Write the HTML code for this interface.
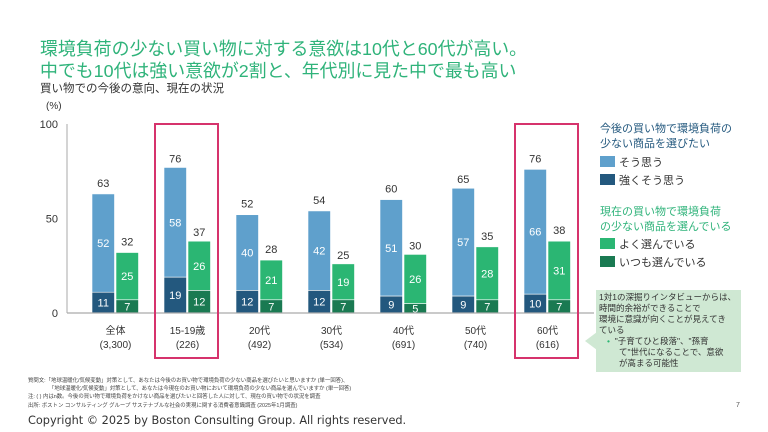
<!DOCTYPE html>
<html><head><meta charset="utf-8"><style>
body{margin:0;width:768px;height:432px;background:#fff;overflow:hidden;font-family:"Liberation Sans","Noto Sans CJK JP",sans-serif;position:relative}
.t{position:absolute;white-space:nowrap}
</style></head><body>
<div class="t" style="left:40px;top:38px;font-size:17.9px;line-height:22px;color:#2fb37a">環境負荷の少ない買い物に対する意欲は10代と60代が高い。<br>中でも10代は強い意欲が2割と、年代別に見た中で最も高い</div>
<div class="t" style="left:40px;top:80px;font-size:11.5px;color:#333">買い物での今後の意向、現在の状況</div>
<svg id="chart" width="768" height="432" style="position:absolute;left:0;top:0" font-family="Liberation Sans, Noto Sans CJK JP, sans-serif"></svg>
<div class="t" style="left:600px;top:122px;font-size:11px;line-height:15px;color:#23587e">今後の買い物で環境負荷の<br>少ない商品を選びたい</div>
<div class="t" style="left:600px;top:154px;font-size:11px;color:#333"><span style="display:inline-block;width:15px;height:11px;background:#5fa0cc;vertical-align:-1px;margin-right:4px"></span>そう思う</div>
<div class="t" style="left:600px;top:172px;font-size:11px;color:#333"><span style="display:inline-block;width:15px;height:11px;background:#23587e;vertical-align:-1px;margin-right:4px"></span>強くそう思う</div>
<div class="t" style="left:600px;top:205px;font-size:11px;line-height:15px;color:#2fb37a">現在の買い物で環境負荷<br>の少ない商品を選んでいる</div>
<div class="t" style="left:600px;top:236px;font-size:11px;color:#333"><span style="display:inline-block;width:15px;height:11px;background:#2bb673;vertical-align:-1px;margin-right:4px"></span>よく選んでいる</div>
<div class="t" style="left:600px;top:254px;font-size:11px;color:#333"><span style="display:inline-block;width:15px;height:11px;background:#1a7a52;vertical-align:-1px;margin-right:4px"></span>いつも選んでいる</div>
<div style="position:absolute;left:596px;top:290px;width:145px;height:82px;background:#cfe8d3;font-size:8.5px;line-height:11px;color:#333;padding:2px 3px;box-sizing:border-box">1対1の深掘りインタビューからは、<br>時間的余裕ができることで<br>環境に意識が向くことが見えてき<br>ている<br><span style="color:#2bb673;margin-left:8px">•</span>&nbsp; "子育てひと段落"、"孫育<br><span style="margin-left:20px">て"世代になることで、意欲</span><br><span style="margin-left:20px">が高まる可能性</span></div>
<div style="position:absolute;left:585px;top:332px;width:0;height:0;border-top:9px solid transparent;border-bottom:9px solid transparent;border-right:12px solid #cfe8d3"></div>
<div class="t" style="left:28px;top:377px;font-size:5.4px;line-height:8.2px;color:#444">質問文:「地球温暖化/気候変動」対策として、あなたは今後のお買い物で環境負荷の少ない商品を選びたいと思いますか (単一回答)、<br>&nbsp;&nbsp;&nbsp;&nbsp;&nbsp;&nbsp;&nbsp;&nbsp;&nbsp;&nbsp;&nbsp;&nbsp;&nbsp;&nbsp;「地球温暖化/気候変動」対策として、あなたは今現在のお買い物において環境負荷の少ない商品を選んでいますか (単一回答)<br>注: ( ) 内はn数。今後の買い物で環境負荷をかけない商品を選びたいと回答した人に対して、現在の買い物での状況を調査<br>出所: ボストン コンサルティング グループ サステナブルな社会の実現に関する消費者意識調査 (2025年1月調査)</div>
<div class="t" style="left:736px;top:402px;font-size:7px;color:#555">7</div>
<div class="t" style="left:28px;top:414px;font-size:11.3px;color:#333;font-family:'DejaVu Sans',sans-serif">Copyright © 2025 by Boston Consulting Group. All rights reserved.</div>
<script>
const categories=["全体","15-19歳","20代","30代","40代","50代","60代"];
const sampleSizes=["(3,300)","(226)","(492)","(534)","(691)","(740)","(616)"];
const futureTotal=[63,76,52,54,60,65,76];
const futureStrong=[11,19,12,12,9,9,10];
const futureAgree=[52,58,40,42,51,57,66];
const currentTotal=[32,37,28,25,30,35,38];
const currentAlways=[7,12,7,7,5,7,7];
const currentOften=[25,26,21,19,26,28,31];
const yTicks=[0,50,100];
const highlighted=[1,6];
const svg=document.getElementById('chart');const NS='http://www.w3.org/2000/svg';
const y0=313,y1=124;const y=v=>y0-(y0-y1)*v/100;
const gx=i=>92+72*i;const bw=22.5;
function el(t,a,p){const e=document.createElementNS(NS,t);for(const k in a)e.setAttribute(k,a[k]);(p||svg).appendChild(e);return e;}
function txt(x,yy,s,a){const e=el('text',Object.assign({x:x,y:yy,'text-anchor':'middle','font-size':11},a));e.textContent=s;return e;}
let t=txt(46,109,'(%)',{'text-anchor':'start','font-size':10,fill:'#333'});

yTicks.forEach(v=>{const e=txt(58,y(v)+4,String(v),{'text-anchor':'end','font-size':11,fill:'#333'});});
let ax=el('line',{x1:67,x2:67,y1:y(100),y2:y0,stroke:'#aaa','stroke-width':1});

categories.forEach((c,i)=>{const x=gx(i);
 function bar(x0,v0,v1,fill,label,name){const r=el('rect',{x:x0,y:y(v1),width:bw,height:y(v0)-y(v1),fill:fill,stroke:'#fff','stroke-width':0.6});
  
  const e=txt(x0+bw/2,(y(v0)+y(v1))/2+4,String(label),{fill:'#fff','font-size':11});}
 bar(x,0,futureStrong[i],'#23587e',futureStrong[i],'bar-strongly-agree-'+i);
 bar(x,futureStrong[i],futureStrong[i]+futureAgree[i],'#5fa0cc',futureAgree[i],'bar-agree-'+i);
 const x2=x+bw+1.5;
 bar(x2,0,currentAlways[i],'#1a7a52',currentAlways[i],'bar-always-'+i);
 bar(x2,currentAlways[i],currentAlways[i]+currentOften[i],'#2bb673',currentOften[i],'bar-often-'+i);
 let a=txt(x+bw/2,y(futureTotal[i])-7,String(futureTotal[i]),{fill:'#333','font-size':11});
 let b=txt(x2+bw/2,y(currentTotal[i])-7,String(currentTotal[i]),{fill:'#333','font-size':11});
 let c1=txt(x+bw+1,334,c,{fill:'#333','font-size':10});
 let c2=txt(x+bw+1,348,sampleSizes[i],{fill:'#333','font-size':10});
});
let bl=el('line',{x1:67,x2:594,y1:y0,y2:y0,stroke:'#aaa','stroke-width':1.2});

highlighted.forEach(i=>{const r=el('rect',{x:gx(i)-9,y:124,width:63,height:234,fill:'none',stroke:'#d6336c','stroke-width':2});
 });
</script>
</body></html>
